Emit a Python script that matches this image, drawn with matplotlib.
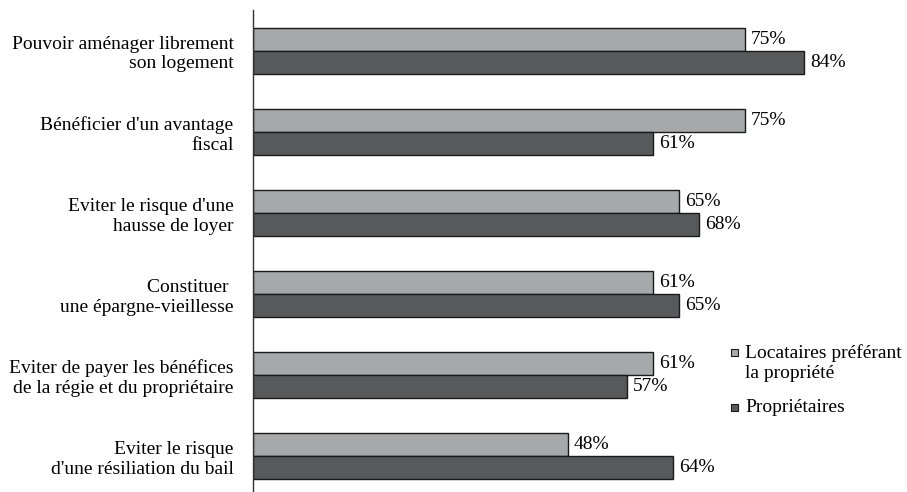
import matplotlib
matplotlib.use("Agg")
import matplotlib.pyplot as plt
from matplotlib.patches import Rectangle
import numpy as np

categories = [
    "Pouvoir aménager librement\nson logement",
    "Bénéficier d'un avantage\nfiscal",
    "Eviter le risque d'une\nhausse de loyer",
    "Constituer \nune épargne-vieillesse",
    "Eviter de payer les bénéfices\nde la régie et du propriétaire",
    "Eviter le risque\nd'une résiliation du bail",
]
locataires = [75, 75, 65, 61, 61, 48]
proprietaires = [84, 61, 68, 65, 57, 64]
series_names = ["Locataires préférant\nla propriété", "Propriétaires"]

plt.rcParams["font.family"] = ["Liberation Serif", "DejaVu Serif"]

light = "#a7a8aa"
dark = "#58595b"
edge = "#1a1a1a"
fs = 14

fig = plt.figure(figsize=(9.07, 4.92), dpi=100)
W, H = 907, 492
ax = fig.add_axes([253 / W, 0, 590 / W, 482 / H])

y = np.arange(len(categories))
h = 0.284
ax.barh(y - h / 2, locataires, height=h, color=light, edgecolor=edge, linewidth=1.0)
ax.barh(y + h / 2, proprietaires, height=h, color=dark, edgecolor=edge, linewidth=1.0)

for yi, v in zip(y, locataires):
    ax.text(v + 0.95, yi - h / 2, f"{v}%", va="center", ha="left", fontsize=fs)
for yi, v in zip(y, proprietaires):
    ax.text(v + 0.95, yi + h / 2, f"{v}%", va="center", ha="left", fontsize=fs)

ax.set_xlim(0, 90)
ax.set_ylim(5.444, -0.5)
ax.set_yticks(y)
ax.set_yticklabels(categories, fontsize=fs, linespacing=1.22)
for lab in ax.get_yticklabels():
    lab.set_multialignment("right")
ax.tick_params(axis="y", length=0, pad=14)
ax.set_xticks([])
for s in ["top", "right", "bottom"]:
    ax.spines[s].set_visible(False)
ax.spines["left"].set_color("#333333")
ax.spines["left"].set_linewidth(1.0)

# Legend: small square swatches beside the first line of each entry
legend_colors = [light, dark]
legend_rows = [352, 407]
for name, col, yr in zip(series_names, legend_colors, legend_rows):
    fig.patches.append(Rectangle((731 / W, 1 - (yr + 3.5) / H), 7 / W, 7 / H,
                                 transform=fig.transFigure, facecolor=col,
                                 edgecolor=edge, linewidth=0.8))
    fig.text(745 / W, 1 - (yr - 8) / H, name, ha="left", va="top",
             fontsize=fs, linespacing=1.22)

fig.savefig("out.png", dpi=100)
